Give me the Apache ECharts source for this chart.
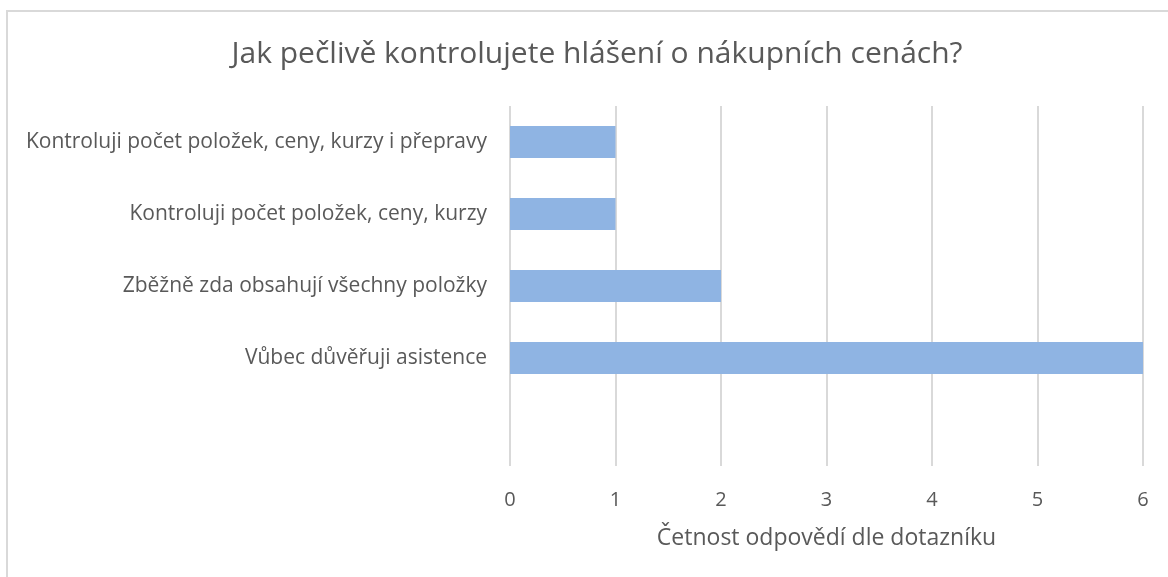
<!DOCTYPE html>
<html>
<head>
<meta charset="utf-8">
<script src="https://cdn.jsdelivr.net/npm/echarts@6/dist/echarts.min.js"></script>
<style>
  html, body { margin: 0; padding: 0; background: #fff; }
  #chart { width: 1168px; height: 577px; }
</style>
</head>
<body>
<div id="chart"></div>
<script>
// odpovědi z dotazníku (poslední řádek je prázdný jako v originále)
const categories = [
  "Kontroluji počet položek, ceny, kurzy i přepravy",
  "Kontroluji počet položek, ceny, kurzy",
  "Zběžně zda obsahují všechny položky",
  "Vůbec důvěřuji asistence",
  ""
];
const counts = [1, 1, 2, 6, null];
const xTicks = [0, 1, 2, 3, 4, 5, 6];

const font = "Open Sans";
const textColor = "#595959";

const chart = echarts.init(document.getElementById("chart"));
chart.setOption({
  animation: false,
  title: {
    text: "Jak pečlivě kontrolujete hlášení o nákupních cenách?",
    left: 592,
    textAlign: "center",
    top: 34,
    textStyle: { fontFamily: font, fontSize: 30, fontWeight: "normal", color: textColor }
  },
  grid: { left: 510, right: 25, top: 106, bottom: 111 },
  xAxis: {
    type: "value",
    min: xTicks[0],
    max: xTicks[xTicks.length - 1],
    interval: 1,
    axisLine: { show: false },
    axisTick: { show: false },
    axisLabel: { margin: 24, fontFamily: font, fontSize: 20, color: textColor },
    splitLine: { lineStyle: { color: "#d9d9d9", width: 2 } },
    name: "Četnost odpovědí dle dotazníku",
    nameLocation: "middle",
    nameGap: 61,
    nameTextStyle: { fontFamily: font, fontSize: 23, color: textColor }
  },
  yAxis: {
    type: "category",
    data: categories,
    inverse: true,
    axisLine: { show: false },
    axisTick: { show: false },
    axisLabel: { margin: 23, fontFamily: font, fontSize: 21, color: textColor }
  },
  series: [{
    type: "bar",
    data: counts,
    barWidth: 32,
    itemStyle: { color: "#8fb4e3" }
  }],
  graphic: [{
    type: "rect",
    shape: { x: 7, y: 11, width: 1300, height: 700 },
    style: { fill: "none", stroke: "#d9d9d9", lineWidth: 2 },
    silent: true
  }]
});
</script>
</body>
</html>
